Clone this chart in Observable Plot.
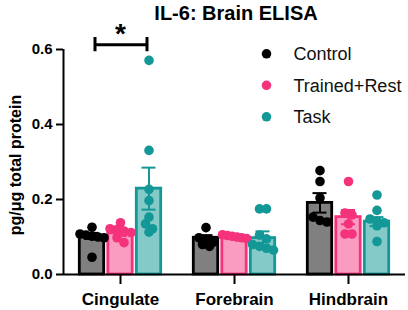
<!DOCTYPE html>
<html>
<head>
<meta charset="utf-8">
<script src="https://cdn.jsdelivr.net/npm/d3@7"></script>
<script src="https://cdn.jsdelivr.net/npm/@observablehq/plot@0.6"></script>
<style>
  body { margin: 0; background: #fff; }
  #chart { width: 408px; height: 310px; }
</style>
</head>
<body>
<div id="chart"></div>
<script>
// ---- data ----
const title = "IL-6: Brain ELISA";
const yLabel = "pg/μg total protein";
const regions = ["Cingulate", "Forebrain", "Hindbrain"];
const groups = ["Control", "Trained+Rest", "Task"];
const yTicks = [0, 0.2, 0.4, 0.6];

const meanControl = [0.103, 0.098, 0.191];
const meanTrained = [0.110, 0.102, 0.153];
const meanTask    = [0.229, 0.097, 0.141];

const semControl = [0.008, 0.007, 0.026];
const semTrained = [0.007, 0.003, 0.019];
const semTask    = [0.056, 0.018, 0.012];

const ptsControl = [
  [0.126, 0.108, 0.105, 0.102, 0.100, 0.098, 0.046],
  [0.125, 0.098, 0.090, 0.086, 0.080, 0.075],
  [0.277, 0.248, 0.204, 0.153, 0.144, 0.140]
];
const ptsTrained = [
  [0.138, 0.122, 0.120, 0.116, 0.112, 0.098, 0.085],
  [0.106, 0.104, 0.102, 0.100, 0.098, 0.096],
  [0.248, 0.164, 0.159, 0.135, 0.108, 0.108]
];
const ptsTask = [
  [0.571, 0.331, 0.227, 0.197, 0.153, 0.135, 0.122, 0.113],
  [0.175, 0.175, 0.105, 0.095, 0.080, 0.075, 0.070, 0.065],
  [0.212, 0.171, 0.148, 0.142, 0.138, 0.130, 0.088]
];

// significance annotation: Cingulate, Control vs Task
const sigRegion = "Cingulate";
const sigFrom = "Control";
const sigTo = "Task";
const sigLabel = "*";

// ---- styles ----
const dotColor   = {"Control": "#000000", "Trained+Rest": "#f5327c", "Task": "#139797"};
const fillColor  = {"Control": "#808080", "Trained+Rest": "#f99cbf", "Task": "#83cac8"};
const strokeColor= {"Control": "#000000", "Trained+Rest": "#f5327c", "Task": "#139797"};
const font = "'Liberation Sans', Arial, Helvetica, sans-serif";

// ---- layout ----
const W = 408, H = 310, mt = 49, mb = 36, ml = 63, mr = 3;
const yMax = 0.6;
const xDomain = [-1, 3];
const pxY = (H - mt - mb) / yMax;
const pxX = ((W - ml - mr) / regions.length) / (xDomain[1] - xDomain[0]);
const barHalf = 12.2 / pxX;
const capHalf = 7 / pxX;

const meansBy = {"Control": meanControl, "Trained+Rest": meanTrained, "Task": meanTask};
const semsBy  = {"Control": semControl, "Trained+Rest": semTrained, "Task": semTask};
const ptsBy   = {"Control": ptsControl, "Trained+Rest": ptsTrained, "Task": ptsTask};

const bars = [];
regions.forEach((r, ri) => groups.forEach((g, gi) => {
  bars.push({region: r, group: g, gi, mean: meansBy[g][ri], sem: semsBy[g][ri]});
}));

// simple deterministic scatter layout: points within ~6px vertically share a row, centered
const dots = [];
regions.forEach((r, ri) => groups.forEach((g, gi) => {
  const vals = ptsBy[g][ri].slice().sort((a, b) => b - a);
  const rows = [];
  for (const v of vals) {
    const row = rows[rows.length - 1];
    if (row && (row[0] - v) * pxY < 6) row.push(v); else rows.push([v]);
  }
  for (const row of rows) {
    const n = row.length;
    const sp = n > 1 ? Math.min(7, 24 / (n - 1)) : 0;
    row.forEach((v, i) => dots.push({region: r, group: g, value: v, x: gi + (i - (n - 1) / 2) * sp / pxX}));
  }
}));

const sig = [{region: sigRegion, from: groups.indexOf(sigFrom), to: groups.indexOf(sigTo), label: sigLabel}];
const sigY = 0.613, sigCapLo = 0.594, sigCapHi = 0.632, sigTextY = 0.64;

const legendMarks = groups.flatMap((g, i) => [
  Plot.dot([{region: "Forebrain"}], {fx: "region", frameAnchor: "top-left", dx: 89, dy: 4.3 + i * 31.5, r: 4.8, fill: dotColor[g]}),
  Plot.text([{region: "Forebrain"}], {fx: "region", frameAnchor: "top-left", dx: 116, dy: 5 + i * 31.5, text: () => g, textAnchor: "start", lineAnchor: "middle", fontSize: 18, fill: "#111"})
]);

const chart = Plot.plot({
  width: W, height: H,
  marginTop: mt, marginBottom: mb, marginLeft: ml, marginRight: mr,
  style: {fontFamily: font, color: "#000", background: "#fff"},
  fx: {domain: regions, padding: 0, label: null},
  x: {domain: xDomain, axis: null},
  y: {domain: [0, yMax], label: null},
  marks: [
    Plot.rectY(bars, {fx: "region", x1: d => d.gi - barHalf, x2: d => d.gi + barHalf, y1: 0, y2: "mean",
      fill: d => fillColor[d.group], stroke: d => strokeColor[d.group], strokeWidth: 2.8}),
    Plot.ruleX(bars, {fx: "region", x: "gi", y1: d => d.mean - d.sem, y2: d => d.mean + d.sem,
      stroke: d => strokeColor[d.group], strokeWidth: 2}),
    Plot.ruleY(bars, {fx: "region", y: d => d.mean + d.sem, x1: d => d.gi - capHalf, x2: d => d.gi + capHalf,
      stroke: d => strokeColor[d.group], strokeWidth: 2}),
    Plot.ruleY(bars, {fx: "region", y: d => d.mean - d.sem, x1: d => d.gi - capHalf, x2: d => d.gi + capHalf,
      stroke: d => strokeColor[d.group], strokeWidth: 2}),
    Plot.dot(dots, {fx: "region", x: "x", y: "value", r: 4.8, fill: d => dotColor[d.group], stroke: "none"}),
    Plot.ruleY([0], {strokeWidth: 2, stroke: "#000"}),
    Plot.ruleX([{region: regions[0]}], {fx: "region", x: xDomain[0], y1: 0, y2: yMax, strokeWidth: 2, stroke: "#000"}),
    Plot.axisY({ticks: yTicks, tickFormat: d3.format(".1f"), tickSize: 7, tickPadding: 4,
      fontSize: 15, fontWeight: "bold", strokeWidth: 2, label: null}),
    Plot.axisFx({anchor: "bottom", tickSize: 10, tickPadding: 8, fontSize: 17, fontWeight: "bold", strokeWidth: 2, label: null}),
    // y label
    Plot.text([{region: regions[0]}], {fx: "region", frameAnchor: "left", rotate: -90, dx: -43, dy: 3,
      text: () => yLabel, lineAnchor: "bottom", textAnchor: "middle", fontSize: 16, fontWeight: "bold"}),
    // title
    Plot.text([{region: "Forebrain"}], {fx: "region", frameAnchor: "top", dx: 1.5, dy: -36,
      text: () => title, lineAnchor: "middle", fontSize: 20, fontWeight: "bold"}),
    // significance bracket
    Plot.ruleY(sig, {fx: "region", y: () => sigY, x1: "from", x2: "to", insetLeft: 3, insetRight: 2, strokeWidth: 3}),
    Plot.ruleX(sig, {fx: "region", x: "from", y1: () => sigCapLo, y2: () => sigCapHi, dx: 3, strokeWidth: 3}),
    Plot.ruleX(sig, {fx: "region", x: "to", y1: () => sigCapLo, y2: () => sigCapHi, dx: -2, strokeWidth: 3}),
    Plot.text(sig, {fx: "region", x: d => (d.from + d.to) / 2, y: () => sigTextY, text: "label",
      lineAnchor: "middle", fontSize: 28, fontWeight: "bold"}),
    ...legendMarks
  ]
});

document.getElementById("chart").appendChild(chart);
</script>
</body>
</html>
